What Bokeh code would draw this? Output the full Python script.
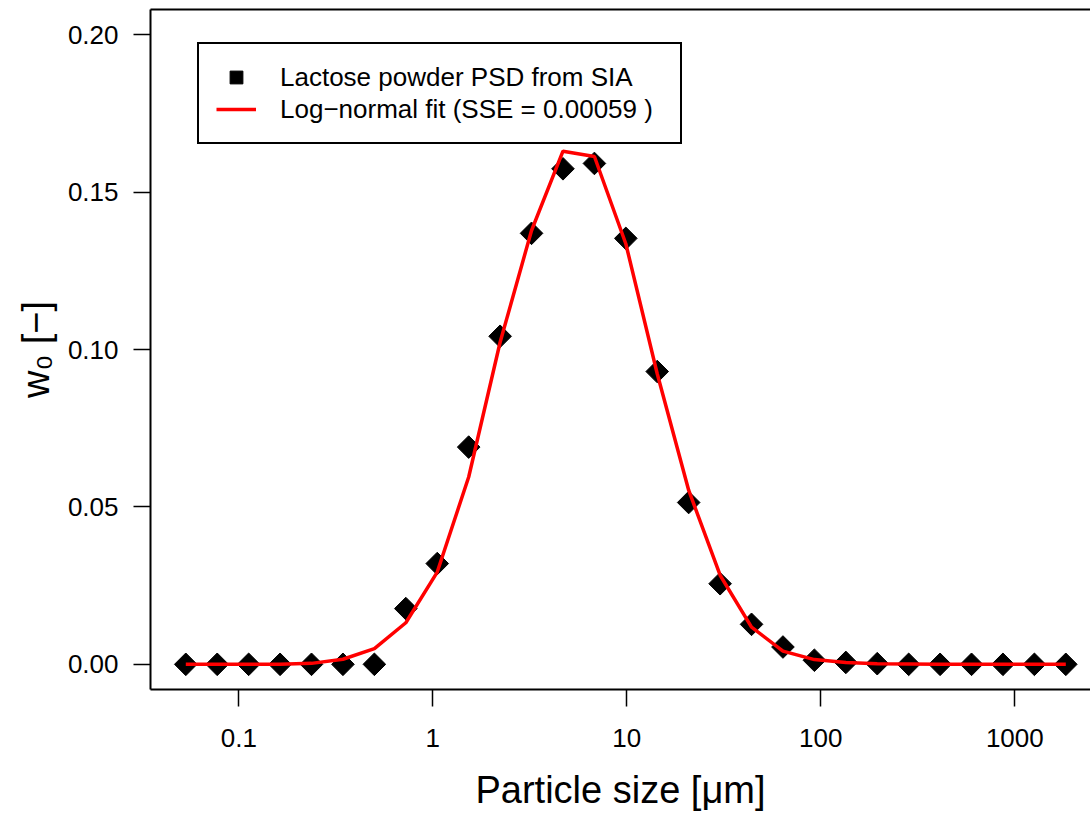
import math
from bokeh.plotting import figure
from bokeh.models import (Range1d, FixedTicker, CustomJSTickFormatter, PrintfTickFormatter,
                          LinearAxis, Legend, LegendItem)
from bokeh.embed import file_html
from bokeh.resources import INLINE

# ---- data ----
particle_size_um = [0.0533, 0.0774, 0.1124, 0.1632, 0.2370, 0.3442, 0.4999, 0.7260,
                    1.054, 1.531, 2.223, 3.228, 4.688, 6.808, 9.883, 14.35, 20.84,
                    30.27, 43.95, 63.82, 92.67, 134.6, 195.4, 283.8, 412.0, 598.4,
                    868.8, 1262.0, 1832.0]
w0_measured = [0, 0, 0, 0, 0, 0, 0, 0.0177, 0.0320, 0.0690, 0.1042, 0.1369, 0.1574,
               0.1591, 0.1353, 0.0930, 0.0514, 0.0256, 0.0127, 0.0055, 0.0013, 0.0006,
               0.0002, 0, 0, 0, 0, 0, 0]
w0_fit = [0, 0, 0, 0, 0.0003, 0.0016, 0.0050, 0.0132, 0.0293, 0.0595, 0.1023, 0.1378,
          0.1630, 0.1613, 0.1336, 0.0923, 0.0553, 0.0283, 0.0118, 0.0042, 0.0015, 0.0006,
          0.0002, 0.0001, 0, 0, 0, 0, 0]
x_ticks = [0.1, 1, 10, 100, 1000]
y_ticks = [0.0, 0.05, 0.10, 0.15, 0.20]
label_points = "Lactose powder PSD from SIA"
label_fit = "Log\u2212normal fit (SSE = 0.00059 )"
x_title = "Particle size [\u03bcm]"
y_title = "w\u2080 [\u2212]"

FONT = "Liberation Sans"

p = figure(x_axis_type="log",
           x_range=Range1d(10 ** -1.4552, 10 ** 3.3902),
           y_range=Range1d(-0.008, 0.208),
           frame_width=940, frame_height=680,
           min_border_left=150, min_border_right=0, min_border_top=9, min_border_bottom=120,
           output_backend="svg", toolbar_location=None)
p.grid.visible = False
p.outline_line_color = None
p.background_fill_color = "white"
p.border_fill_color = "white"

pts = p.scatter(particle_size_um, w0_measured, marker="square", size=16, angle=math.pi / 4,
                fill_color="black", line_color="black")
ln = p.line(particle_size_um, w0_fit, line_color="#ff0000", line_width=3.5)

# x axis
xa = p.xaxis[0]
xa.ticker = FixedTicker(ticks=x_ticks, minor_ticks=[])
xa.formatter = CustomJSTickFormatter(code="return tick.toString()")
# y axis
ya = p.yaxis[0]
ya.ticker = FixedTicker(ticks=y_ticks, minor_ticks=[])
ya.formatter = PrintfTickFormatter(format="%.2f")

for ax in (xa, ya):
    ax.axis_line_color = "black"
    ax.axis_line_width = 2
    ax.major_tick_line_color = "black"
    ax.major_tick_line_width = 1.5
    ax.major_tick_out = 17
    ax.major_tick_in = 0
    ax.minor_tick_out = 0
    ax.minor_tick_in = 0
    ax.major_label_text_font = FONT
    ax.major_label_text_font_size = "26px"
    ax.major_label_text_color = "black"
    ax.axis_label_text_font = FONT
    ax.axis_label_text_font_size = "38px"
    ax.axis_label_text_font_style = "normal"
    ax.axis_label_text_color = "black"

xa.axis_label = x_title
xa.major_label_standoff = 22
xa.axis_label_standoff = 19
ya.axis_label = y_title
ya.major_label_standoff = 15
ya.axis_label_standoff = 8

# top border line of the box
top = LinearAxis(ticker=FixedTicker(ticks=[]), major_tick_out=0, major_tick_in=0,
                 minor_tick_out=0, minor_tick_in=0, major_label_standoff=0,
                 major_label_text_font_size="0px", axis_line_color="black", axis_line_width=2)
p.add_layout(top, "above")

legend = Legend(items=[LegendItem(label=label_points, renderers=[pts]),
                       LegendItem(label=label_fit, renderers=[ln])],
                location=(47, 545), padding=17, spacing=0,
                glyph_width=40, glyph_height=32, label_height=32, label_width=383,
                label_standoff=24,
                label_text_font=FONT, label_text_font_size="26px", label_text_color="black",
                border_line_color="black", border_line_width=2, border_line_alpha=1.0,
                background_fill_color="white", background_fill_alpha=1.0,
                margin=0)
p.add_layout(legend)

open("out.html", "w").write(file_html(p, INLINE))
